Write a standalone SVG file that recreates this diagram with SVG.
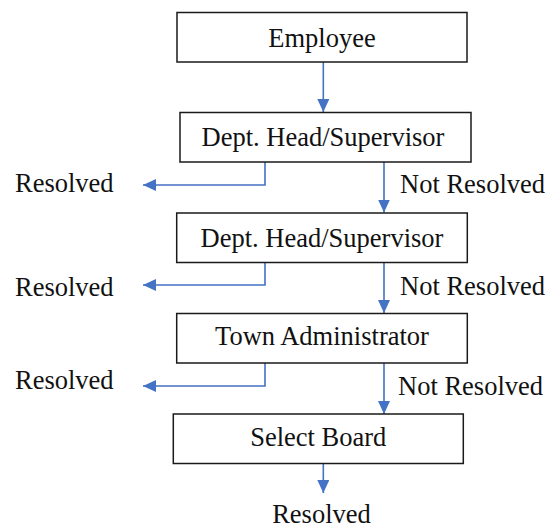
<svg xmlns="http://www.w3.org/2000/svg" width="548" height="529" viewBox="0 0 548 529">
<defs>
<marker id="arr" markerUnits="userSpaceOnUse" markerWidth="14" markerHeight="12" viewBox="0 0 14 12" refX="13" refY="6" orient="auto">
<path d="M0,0 L13,6 L0,12 Z" fill="#4472C4"/>
</marker>
</defs>
<style>
.box{fill:#fff;stroke:#1a1a1a;stroke-width:1.5}
text{font-family:'Liberation Serif','Times New Roman','DejaVu Serif',serif;font-size:26.5px;fill:#111}
.c{text-anchor:middle}
.ln{fill:none;stroke:#4472C4;stroke-width:1.6;marker-end:url(#arr)}
</style>
<rect width="548" height="529" fill="#fff"/>
<g id="connectors">
<path class="ln" d="M323.3,62 V112"/>
<path class="ln" d="M265,162 V185 H143"/>
<path class="ln" d="M384,162 V212.5"/>
<path class="ln" d="M265,262 V285 H143"/>
<path class="ln" d="M384,262 V313"/>
<path class="ln" d="M265,363 V386 H143"/>
<path class="ln" d="M384,363 V414"/>
<path class="ln" d="M323.3,463 V493"/>
</g>
<g id="employee">
<rect class="box" x="177" y="12.5" width="290" height="49.5"/>
<text class="c" x="322" y="47">Employee</text>
</g>
<g id="dept1">
<rect class="box" x="180" y="112.5" width="291" height="49.5"/>
<text class="c" x="323" y="146">Dept. Head/Supervisor</text>
</g>
<g id="dept2">
<rect class="box" x="176.7" y="213" width="290.6" height="49.5"/>
<text class="c" x="322" y="247">Dept. Head/Supervisor</text>
</g>
<g id="town">
<rect class="box" x="176.7" y="313.5" width="290.6" height="49.5"/>
<text class="c" x="322" y="345">Town Administrator</text>
</g>
<g id="select">
<rect class="box" x="173.3" y="414" width="290" height="49.5"/>
<text class="c" x="318.3" y="446">Select Board</text>
</g>
<g id="labels">
<text x="15" y="192">Resolved</text>
<text x="400" y="193">Not Resolved</text>
<text x="15" y="296">Resolved</text>
<text x="400" y="295">Not Resolved</text>
<text x="15" y="389">Resolved</text>
<text x="398" y="395">Not Resolved</text>
<text class="c" x="321.5" y="523">Resolved</text>
</g>
</svg>
